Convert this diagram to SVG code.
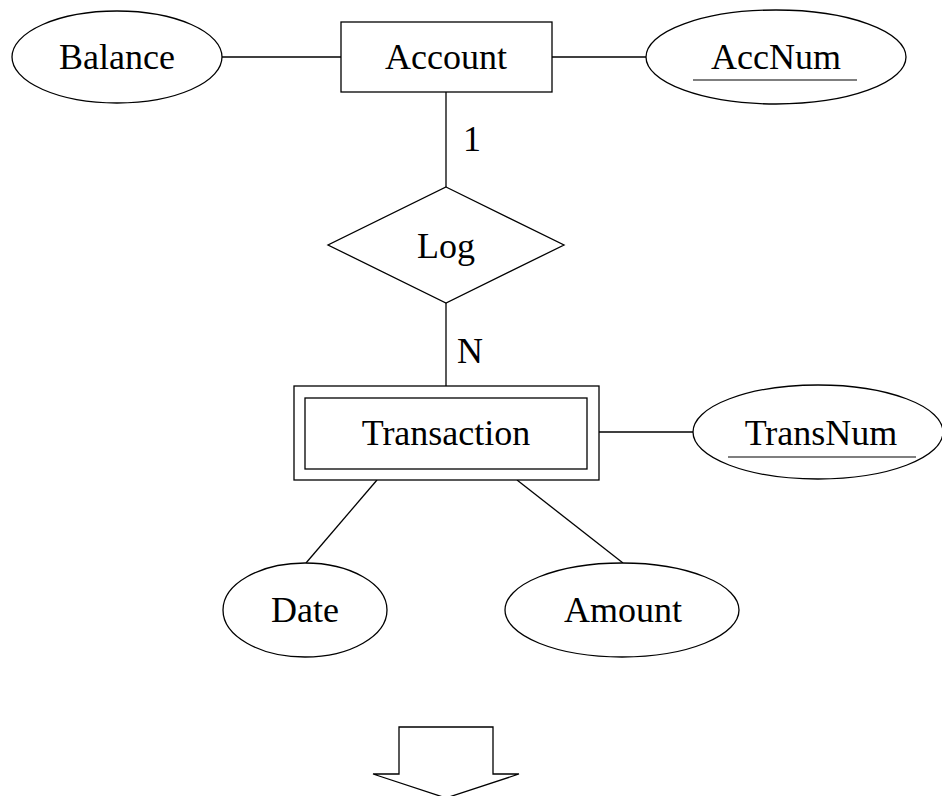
<svg xmlns="http://www.w3.org/2000/svg" width="942" height="796" viewBox="0 0 942 796">
  <style>
    .shape { fill: #ffffff; stroke: #000000; stroke-width: 1.3; }
    .link { stroke: #000000; stroke-width: 1.3; fill: none; }
    .label { font-family: "Liberation Serif", "Times New Roman", serif; font-size: 36px; fill: #000000; }
    .key { stroke: #555555; stroke-width: 1.6; }
  </style>
  <rect x="0" y="0" width="942" height="796" fill="#ffffff"/>

  <!-- connectors -->
  <g id="connectors">
    <line class="link" x1="222" y1="57" x2="341" y2="57"/>
    <line class="link" x1="552" y1="57" x2="646" y2="57"/>
    <line class="link" x1="446" y1="92" x2="446" y2="187"/>
    <line class="link" x1="446" y1="303" x2="446" y2="386"/>
    <line class="link" x1="599" y1="432" x2="693" y2="432"/>
    <line class="link" x1="377" y1="480" x2="306" y2="563"/>
    <line class="link" x1="517" y1="480" x2="623" y2="563"/>
    <text class="label" x="463" y="151">1</text>
    <text class="label" x="457" y="363">N</text>
  </g>

  <!-- attribute: Balance -->
  <g id="balance">
    <ellipse class="shape" cx="117" cy="57" rx="105" ry="46"/>
    <text class="label" x="117" y="69" text-anchor="middle">Balance</text>
  </g>

  <!-- entity: Account -->
  <g id="account">
    <rect class="shape" x="341" y="22" width="211" height="70"/>
    <text class="label" x="446" y="69" text-anchor="middle">Account</text>
  </g>

  <!-- key attribute: AccNum -->
  <g id="accnum">
    <ellipse class="shape" cx="776" cy="57" rx="130" ry="47"/>
    <text class="label" x="776" y="69" text-anchor="middle">AccNum</text>
    <line class="key" x1="693" y1="80" x2="857" y2="80"/>
  </g>

  <!-- relationship: Log -->
  <g id="log">
    <polygon class="shape" points="446,187 564,245 446,303 328,245"/>
    <text class="label" x="446" y="258" text-anchor="middle">Log</text>
  </g>

  <!-- weak entity: Transaction -->
  <g id="transaction">
    <rect class="shape" x="294" y="386" width="305" height="94"/>
    <rect class="shape" x="305" y="398" width="282" height="71"/>
    <text class="label" x="446" y="445" text-anchor="middle">Transaction</text>
  </g>

  <!-- partial key: TransNum -->
  <g id="transnum">
    <ellipse class="shape" cx="818" cy="432" rx="125" ry="47"/>
    <text class="label" x="821" y="445" text-anchor="middle">TransNum</text>
    <line class="key" x1="728" y1="457" x2="916" y2="457"/>
  </g>

  <!-- attribute: Date -->
  <g id="date">
    <ellipse class="shape" cx="305" cy="610" rx="82" ry="47"/>
    <text class="label" x="305" y="622" text-anchor="middle">Date</text>
  </g>

  <!-- attribute: Amount -->
  <g id="amount">
    <ellipse class="shape" cx="622" cy="610" rx="117" ry="47"/>
    <text class="label" x="623" y="622" text-anchor="middle">Amount</text>
  </g>

  <!-- block arrow pointing down -->
  <g id="down-arrow">
    <polygon class="shape" points="399,727 493,727 493,774 519,774 446,798 373,774 399,774"/>
  </g>
</svg>
